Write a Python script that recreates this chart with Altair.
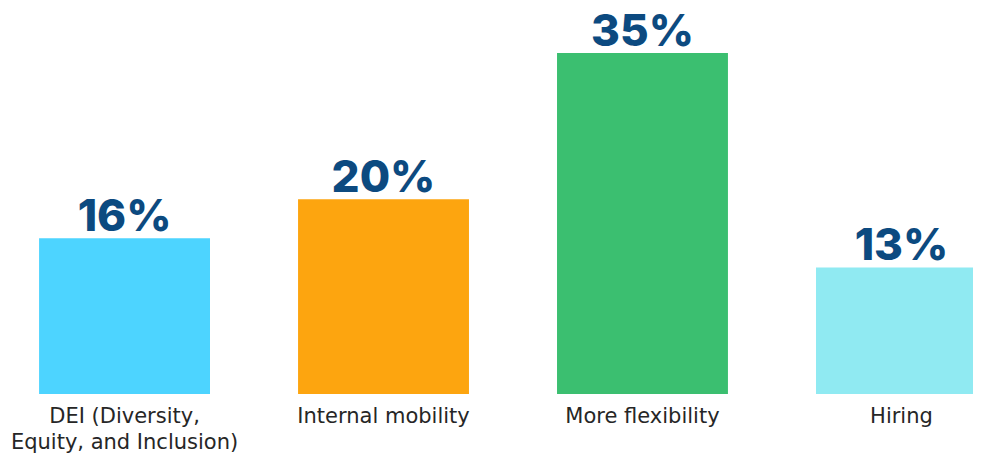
import altair as alt
import pandas as pd

categories = ["DEI (Diversity, Equity, and Inclusion)", "Internal mobility", "More flexibility", "Hiring"]
values = [16, 20, 35, 13]
labels = ["16%", "20%", "35%", "13%"]
colors = ["#4dd4ff", "#fda50f", "#3bbf70", "#90eaf2"]

df = pd.DataFrame({"category": categories, "value": values, "label": labels})

x = alt.X(
    "category:N",
    sort=categories,
    scale=alt.Scale(range=[0, 1010], paddingInner=0.34, paddingOuter=0.12),
    axis=alt.Axis(
        title=None, domain=False, ticks=False, labelAngle=0,
        labelFont="DejaVu Sans", labelFontSize=21, labelColor="#262626",
        labelPadding=11, labelLineHeight=26, labelLimit=400,
        labelExpr="datum.value == 'DEI (Diversity, Equity, and Inclusion)' ? ['DEI (Diversity,', 'Equity, and Inclusion)'] : datum.label",
    ),
)
y = alt.Y("value:Q", scale=alt.Scale(domain=[0, 39.63], nice=False), axis=None)

bars = alt.Chart(df).mark_bar(clip=True).encode(
    x=x, y=y,
    color=alt.Color("category:N", sort=categories, scale=alt.Scale(domain=categories, range=colors), legend=None),
)
text = alt.Chart(df).mark_text(
    font="Inter", fontSize=44, fontWeight=800, color="#0c4a80", baseline="alphabetic", dy=-7
).encode(x=x, y=y, text="label:N")

chart = (bars + text).properties(
    width=965, height=386,
    padding={"left": 0, "top": 0, "right": 0, "bottom": 59},
    autosize=alt.AutoSizeParams(type="none"),
).configure_view(stroke=None)

chart.save("out.html", embed_options={"renderer": "svg", "actions": False})
